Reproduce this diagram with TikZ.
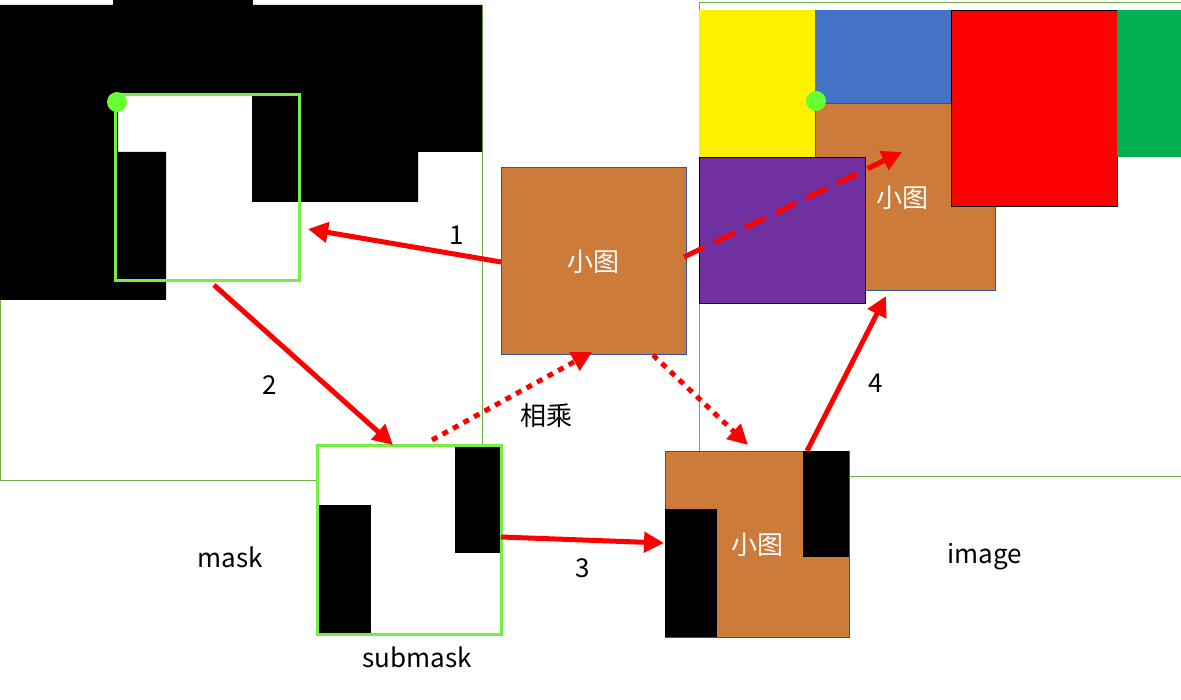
\documentclass[tikz,border=0pt]{standalone}
\usepackage{fontspec}
\setmainfont{Noto Sans CJK SC}
\usetikzlibrary{arrows.meta}
\definecolor{brn}{HTML}{CD7B3A}
\definecolor{gbox}{HTML}{77EE44}
\definecolor{gdot}{HTML}{66FF33}
\definecolor{thin}{HTML}{70AD47}
\definecolor{bluebox}{HTML}{4472C4}
\definecolor{purp}{HTML}{7030A0}
\definecolor{grn}{HTML}{00B050}
\definecolor{edge}{HTML}{2F5597}
\tikzset{
 arr/.style={red,line width=5pt,-{Triangle[length=20pt,width=20pt]}},
 lbl/.style={font=\fontsize{26}{30}\selectfont},
 pane/.style={draw=thin,line width=0.8pt,fill=white},
 tile/.style={draw=edge,line width=0.6pt},
}
\begin{document}
\begin{tikzpicture}[x=1pt,y=-1pt]
\useasboundingbox (0,0) rectangle (1181,700);
\fill[white] (0,0) rectangle (1181,700);
% mask
\draw[pane] (0,5) rectangle (482,480);
\fill[black] (0,5)-|(482,152)-|(418,202)-|(252,95)-|(118,152)-|(166,300)-|(0,5)--cycle;
\fill[black] (113,0) rectangle (253,6);
\draw[gbox,line width=3pt] (115,95) rectangle (299,281);
\fill[gdot] (117,102) circle (10);
% image
\draw[pane] (699,2) rectangle (1181,476);
\fill[yellow] (699,10) rectangle (815,157);
\fill[bluebox] (815,10) rectangle (951,103);
\draw[tile,fill=brn] (815,103) rectangle (995,290);
\node (bigsmall) [lbl,text=white] at (902,198) {小图};
\draw[fill=purp,draw=black,line width=0.6pt] (699,157) rectangle (865,303);
\draw[fill=red,draw=black,line width=0.6pt] (951,10) rectangle (1117,206);
\fill[grn] (1117,10) rectangle (1181,157);
\fill[gdot] (816,101) circle (10);
% small image
\draw[tile,fill=brn] (501,167) rectangle (686,354);
\node (small) [lbl,text=white] at (593,262) {小图};
% submask
\fill[white] (317,446) rectangle (501,634);
\fill[black] (319,505) rectangle (371,634);
\fill[black] (455,446) rectangle (501,553);
\draw[gbox,line width=3pt] (317,446) rectangle (501,634);
% result
\draw[tile,fill=brn] (665,451) rectangle (849,637);
\fill[black] (665,509) rectangle (717,637);
\fill[black] (803,451) rectangle (849,557);
\node (res) [lbl,text=white] at (757,545) {小图};
% coordinates
\coordinate (a1s) at (501,262); \coordinate (a1e) at (308,229);
\coordinate (a2s) at (214,285); \coordinate (a2e) at (393,445);
\coordinate (a3s) at (501,537); \coordinate (a3e) at (664,543);
\coordinate (a4s) at (807,451); \coordinate (a4e) at (886,296);
\coordinate (ds) at (684,257); \coordinate (de) at (902,152);
\coordinate (p1s) at (432,440); \coordinate (p1e) at (592,352);
\coordinate (p2s) at (653,355); \coordinate (p2e) at (748,445);
\draw[arr] (a1s)--(a1e);
\draw[arr] (a2s)--(a2e);
\draw[arr] (a3s)--(a3e);
\draw[arr] (a4s)--(a4e);
\draw[arr,dash pattern=on 22pt off 12pt] (ds)--(de);
\draw[arr,dash pattern=on 6pt off 6pt] (p1s)--(p1e);
\draw[arr,dash pattern=on 6pt off 6pt] (p2s)--(p2e);
\node (l1) [lbl] at (457,235) {1};
\node (l2) [lbl] at (270,385) {2};
\node (l3) [lbl] at (583,568) {3};
\node (l4) [lbl] at (876,383) {4};
\node (lm) [lbl] at (546,416) {相乘};
\node (mk) [lbl] at (230,557) {mask};
\node (im) [lbl] at (985,557) {image};
\node (sm) [lbl] at (417,657) {submask};
\end{tikzpicture}
\end{document}
